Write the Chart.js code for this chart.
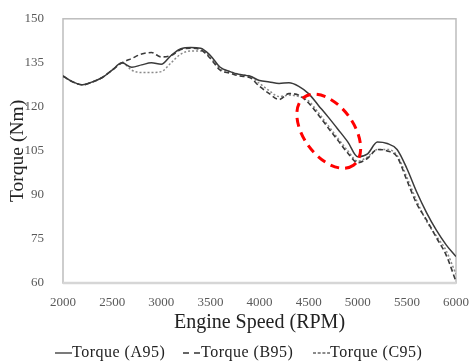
<!DOCTYPE html>
<html><head><meta charset="utf-8">
<script src="https://cdn.jsdelivr.net/npm/chart.js@4.4.1/dist/chart.umd.min.js"></script>
<style>html,body{margin:0;padding:0;background:#fff}#w{width:473px;height:361px}</style>
</head><body><div id="w"><canvas id="c"></canvas></div>
<script>
const rpm = [2000,2100,2200,2300,2400,2500,2600,2700,2800,2900,3000,3100,3200,3300,3400,3500,3600,3700,3800,3900,4000,4100,4200,4300,4400,4500,4600,4700,4800,4900,5000,5100,5200,5300,5400,5500,5600,5700,5800,5900,6000];
const torqueA95 = [130.5,128.5,127.5,128.5,130,132.5,135,133.5,134.3,135,134.5,137.5,139.8,140.2,140,137.5,133.5,132,131,130.5,129,128.5,128,128.2,127,124.5,120.5,116.5,112.3,108,103,104,108,107.5,105.5,99,91,84,78,73,69];
const torqueB95 = [130.5,128.5,127.5,128.5,130,132.5,135,136.5,138,138.5,137,137.5,139.5,140,139.5,136.5,132.5,131.5,130.5,130,127,124.5,122.5,124.5,124,121.3,117.2,112.8,108.5,104.2,101,102.5,105.5,105,103,95,87,81.5,75.5,69.5,60.5];
const torqueC95 = [130.5,128.5,127.5,128.5,130,132.5,135,132.5,131.7,131.7,132,135,138,139,139,137,133,132,131,130.5,128,125.5,123.5,124,123.5,122,118,113.6,109.2,105,101.5,103,105.5,105.5,103.5,96,88,81,76,71,63];
const yTicks = [60,75,90,105,120,135,150];
const xTicks = [2000,2500,3000,3500,4000,4500,5000,5500,6000];
const highlight = {rpm: 4705, torque: 111.7};

const pts = arr => arr.map((v,i)=>({x:rpm[i], y:v}));
const serif = "'Liberation Serif','Times New Roman',serif";

const frame = {
  id:'frame',
  beforeDatasetsDraw(chart){
    const {ctx, chartArea:a} = chart;
    ctx.save();
    ctx.strokeStyle='#bdbdbd'; ctx.lineWidth=1.5;
    ctx.strokeRect(a.left, a.top, a.right-a.left, a.bottom-a.top);
    ctx.strokeStyle='#d6d6d6'; ctx.lineWidth=2.5;
    ctx.beginPath(); ctx.moveTo(a.left, a.bottom); ctx.lineTo(a.right, a.bottom); ctx.stroke();
    ctx.restore();
  },
  afterDatasetsDraw(chart){
    const {ctx, scales:{x,y}} = chart;
    const cx = x.getPixelForValue(highlight.rpm), cy = y.getPixelForValue(highlight.torque);
    ctx.save();
    ctx.strokeStyle='#ff0000'; ctx.lineWidth=3; ctx.setLineDash([9,6]);
    ctx.beginPath();
    ctx.ellipse(cx, cy, 42, 25, 54*Math.PI/180, 0, 2*Math.PI);
    ctx.stroke();
    ctx.restore();
  },
  afterDraw(chart){
    const {ctx} = chart;
    const items = [
      {x:55, len:17, dash:[], color:'#333'},
      {x:183, len:18, dash:[6,5], color:'#333'},
      {x:313, len:17, dash:[3,1.7], color:'#666'}
    ];
    const yc = 353;
    ctx.save();
    ctx.font = '16px ' + serif;
    if ('letterSpacing' in ctx) ctx.letterSpacing = '0.5px';
    ctx.textBaseline = 'middle';
    chart.data.datasets.forEach((ds,i)=>{
      const it = items[i];
      ctx.strokeStyle = it.color; ctx.lineWidth = 1.3; ctx.setLineDash(it.dash);
      ctx.beginPath(); ctx.moveTo(it.x, yc); ctx.lineTo(it.x+it.len, yc); ctx.stroke();
      ctx.fillStyle = '#222';
      ctx.fillText(ds.label, it.x+it.len, yc);
    });
    if ('letterSpacing' in ctx) ctx.letterSpacing = '0px';
    ctx.restore();
  }
};

new Chart(document.getElementById('c'), {
  type:'line',
  data:{datasets:[
    {label:'Torque (A95)', data:pts(torqueA95), borderColor:'#3a3a3a', borderWidth:1.5, pointRadius:0, cubicInterpolationMode:'monotone'},
    {label:'Torque (B95)', data:pts(torqueB95), borderColor:'#3a3a3a', borderWidth:1.6, borderDash:[5,3], pointRadius:0, cubicInterpolationMode:'monotone'},
    {label:'Torque (C95)', data:pts(torqueC95), borderColor:'#8a8a8a', borderWidth:1.5, borderDash:[2,2], pointRadius:0, cubicInterpolationMode:'monotone'}
  ]},
  options:{
    responsive:true, maintainAspectRatio:false, animation:false,
    layout:{padding:{left:4,right:16,top:16,bottom:26}},
    plugins:{ legend:{display:false}, tooltip:{enabled:false} },
    scales:{
      x:{type:'linear', min:2000, max:6000,
        afterBuildTicks(s){ s.ticks = xTicks.map(v=>({value:v})); },
        afterFit(s){ s.height = 52; },
        grid:{display:false}, border:{display:false},
        ticks:{color:'#595959', font:{family:serif,size:13}, padding:4, maxRotation:0, callback:v=>String(v)},
        title:{display:true, text:'Engine Speed (RPM)', color:'#222', font:{family:serif,size:20}, padding:{top:0,bottom:0}}
      },
      y:{min:60, max:150,
        afterBuildTicks(s){ s.ticks = yTicks.map(v=>({value:v})); },
        afterFit(s){ s.width = 59; },
        grid:{display:false}, border:{display:false},
        ticks:{color:'#595959', font:{family:serif,size:13}, padding:11, callback:v=>String(v)},
        title:{display:true, text:'Torque (Nm)', color:'#222', font:{family:serif,size:19.5}, padding:{top:2,bottom:0}}
      }
    }
  },
  plugins:[frame]
});
</script></body></html>
